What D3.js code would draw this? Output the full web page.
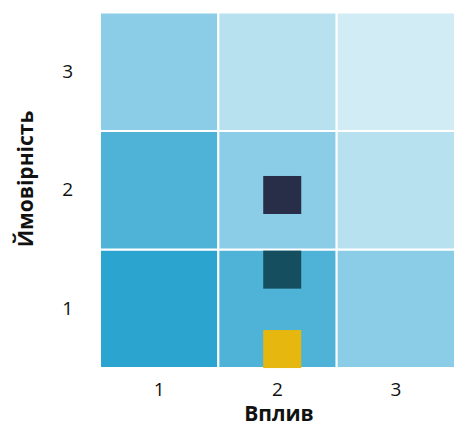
<!DOCTYPE html>
<html>
<head>
<meta charset="utf-8">
<script src="https://cdn.jsdelivr.net/npm/d3@7"></script>
<style>
  html, body { margin: 0; padding: 0; background: #fff; }
  svg { display: block; font-family: "Open Sans", "Noto Sans", sans-serif; }
</style>
</head>
<body>
<svg id="chart" width="454" height="424"></svg>
<script>
// Risk matrix: impact (x) by likelihood (y)
const impactLevels = [1, 2, 3];
const likelihoodLevels = [1, 2, 3];
// Shade per risk score (impact + likelihood), from 2 to 6
const scoreColors = ["#2ba5d0", "#4fb3d8", "#8bcce6", "#b8e1ef", "#d1ecf4"];

// Individual risks placed on the matrix
const riskImpact = [2.04, 2.04, 2.04];
const riskLikelihood = [1.96, 1.33, 0.66];
const riskColors = ["#282d48", "#154f5f", "#e6b80f"];

const xTickLabels = ["1", "2", "3"];
const yTickLabels = ["1", "2", "3"];

const svg = d3.select("#chart");
const plotLeft = 100, plotRight = 455, plotTop = 12.5, plotBottom = 368;

const x = d3.scaleBand().domain(impactLevels).range([plotLeft, plotRight]);
const y = d3.scaleBand().domain(likelihoodLevels.slice().reverse()).range([plotTop, plotBottom]);
const xPos = d3.scaleLinear().domain([0.5, 3.5]).range([plotLeft, plotRight]);
const yPos = d3.scaleLinear().domain([0.5, 3.5]).range([plotBottom, plotTop]);

const cells = [];
impactLevels.forEach(i => likelihoodLevels.forEach(l => cells.push({ i, l })));

svg.append("g").selectAll("rect")
  .data(cells)
  .join("rect")
  .attr("x", d => x(d.i))
  .attr("y", d => y(d.l))
  .attr("width", x.bandwidth())
  .attr("height", y.bandwidth())
  .attr("fill", d => scoreColors[d.i + d.l - 2])
  .attr("stroke", "#fff")
  .attr("stroke-width", 2);

const size = 38;
const risks = riskImpact.map((v, k) => ({ x: v, y: riskLikelihood[k], c: riskColors[k] }));
svg.append("g").selectAll("rect")
  .data(risks)
  .join("rect")
  .attr("x", d => xPos(d.x) - size / 2)
  .attr("y", d => yPos(d.y) - size / 2)
  .attr("width", size)
  .attr("height", size)
  .attr("fill", d => d.c);

// Axes (labels only, no lines)
const xAxis = svg.append("g")
  .attr("transform", `translate(0,${plotBottom})`)
  .call(d3.axisBottom(x).tickSize(0).tickPadding(15).tickFormat((d, k) => xTickLabels[k]));
const yAxis = svg.append("g")
  .attr("transform", `translate(${plotLeft},0)`)
  .call(d3.axisLeft(y).tickSize(0).tickPadding(27).tickFormat(d => yTickLabels[likelihoodLevels.indexOf(d)]));

[xAxis, yAxis].forEach(g => {
  g.select(".domain").remove();
  g.selectAll("text")
    .attr("font-family", "\"Open Sans\", sans-serif")
    .attr("font-size", 19)
    .attr("fill", "#111");
});

svg.append("text")
  .attr("x", 279)
  .attr("y", 421)
  .attr("text-anchor", "middle")
  .attr("font-size", 21)
  .attr("font-weight", "bold")
  .attr("fill", "#111")
  .text("Вплив");

svg.append("text")
  .attr("transform", "translate(33,179) rotate(-90)")
  .attr("text-anchor", "middle")
  .attr("font-size", 21)
  .attr("font-weight", "bold")
  .attr("fill", "#111")
  .text("Ймовірність");
</script>
</body>
</html>
